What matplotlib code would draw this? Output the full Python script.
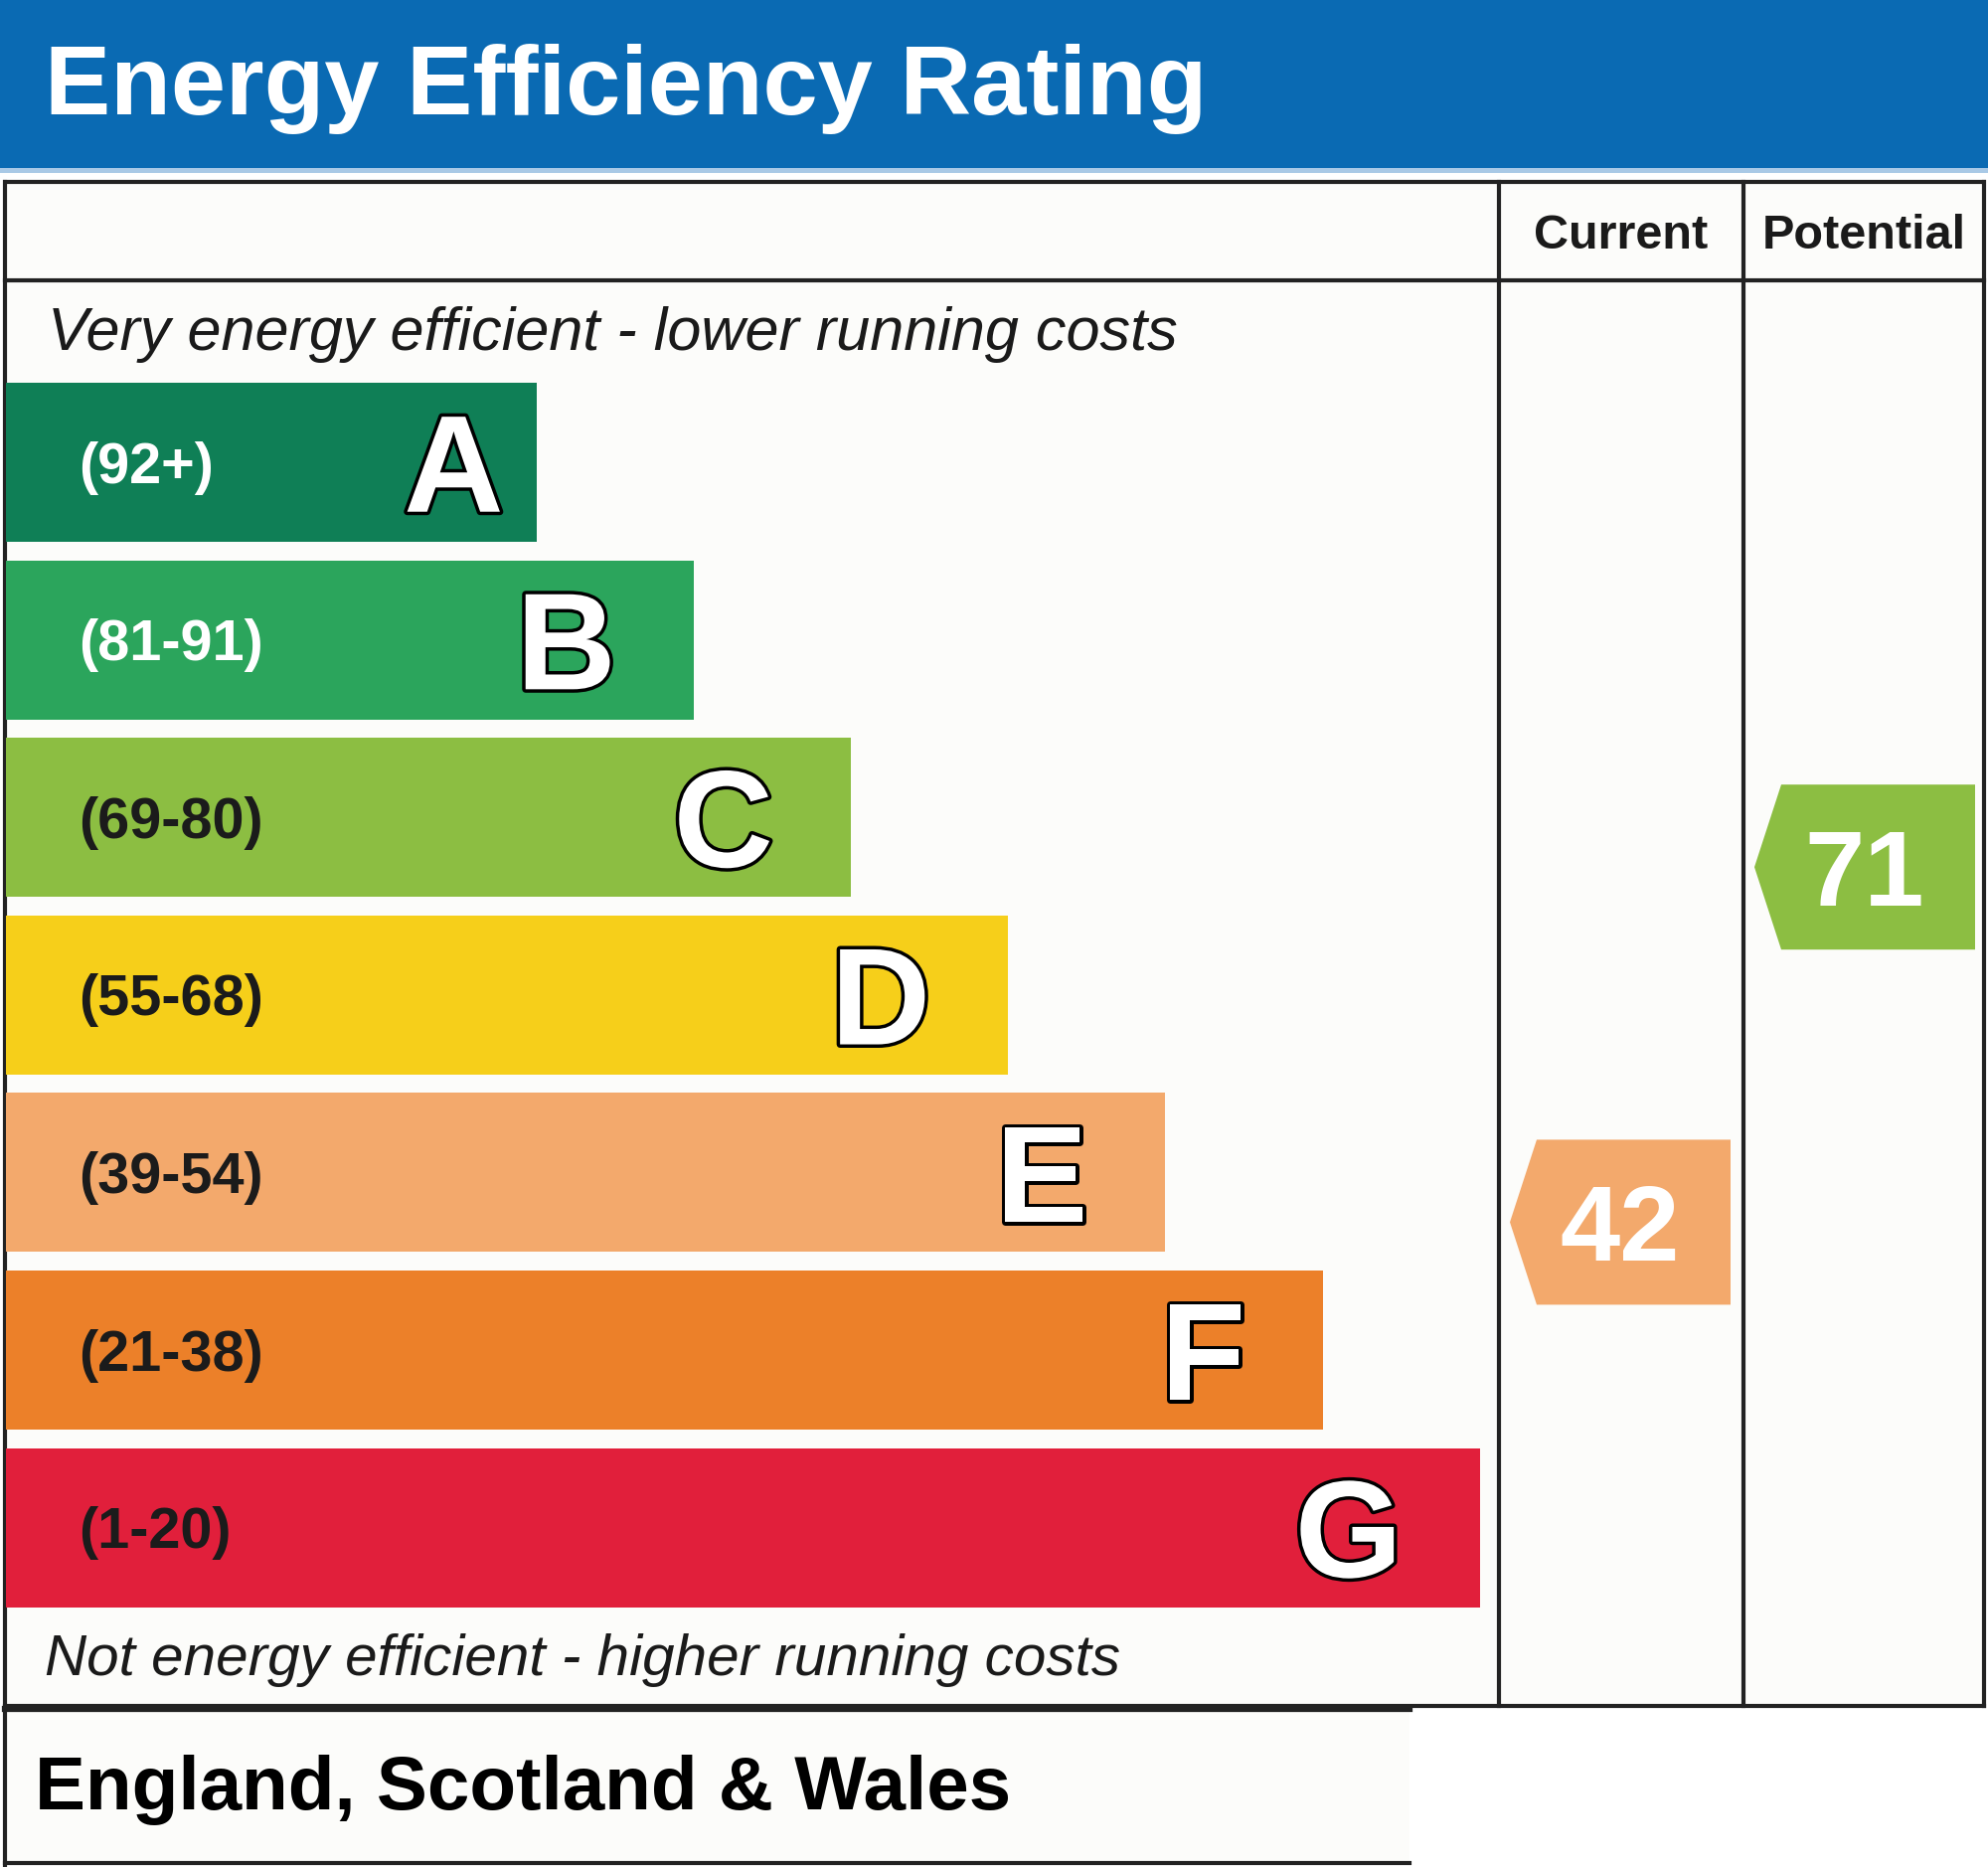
import matplotlib
matplotlib.use("Agg")
import matplotlib.pyplot as plt
import matplotlib.patheffects as pe
from matplotlib.patches import Rectangle, Polygon

plt.rcParams['font.family'] = ['Liberation Sans', 'DejaVu Sans']

# band data
letters = ['A', 'B', 'C', 'D', 'E', 'F', 'G']
ranges = ['(92+)', '(81-91)', '(69-80)', '(55-68)', '(39-54)', '(21-38)', '(1-20)']
lower = [92, 81, 69, 55, 39, 21, 1]
colors = ['#0f7f56', '#2ba55c', '#8cbe42', '#f6cf1a', '#f3a96c', '#ec8029', '#e11f3b']
range_colors = ['white', 'white', '#1b1b1b', '#1b1b1b', '#1b1b1b', '#1b1b1b', '#1b1b1b']

current = 42
potential = 71

title = 'Energy Efficiency Rating'
col_labels = ['Current', 'Potential']
top_note = 'Very energy efficient - lower running costs'
bottom_note = 'Not energy efficient - higher running costs'
region = 'England, Scotland & Wales'

W, H = 2000, 1878
fig = plt.figure(figsize=(W / 100, H / 100), dpi=100)
fig.patch.set_facecolor('white')
ax = fig.add_axes([0, 0, 1, 1])
ax.set_xlim(0, W)
ax.set_ylim(H, 0)
ax.axis('off')

PX = 100 / 72  # pixels per point


def cap(fs):
    return 0.716 * fs * PX


# layout (pixels)
box_l, box_r = 5, 1996
top_y, head_y, bot_y = 183, 282, 1718
col1, col2 = 1508, 1754
foot_r, foot_b = 1418, 1874
bar_top0, bar_h, pitch = 385, 160, 178.6
bar_x0, bar_w0, bar_step = 6, 533.5, 158.2

# backgrounds
ax.add_patch(Rectangle((box_l, top_y), box_r - box_l, bot_y - top_y, fc='#fcfcfa', ec='none', zorder=0))
ax.add_patch(Rectangle((box_l, bot_y), foot_r - box_l, foot_b - bot_y, fc='#fcfcfa', ec='none', zorder=0))
ax.add_patch(Rectangle((0, 0), W, 169, fc='#0a6ab3', ec='none', zorder=1))
ax.add_patch(Rectangle((0, 169), W, 5, fc='#a9c9e6', ec='none', zorder=1))

ax.text(45, 115, title, color='white', fontsize=71.5, fontweight='bold', va='baseline', ha='left')

# frame lines
lw = 3
ax.plot([box_l - 2, box_r + 2], [top_y, top_y], color='#222222', lw=lw, solid_capstyle='butt')
ax.plot([box_l, box_r], [head_y, head_y], color='#222222', lw=lw)
ax.plot([box_l, box_l], [top_y, foot_b + 2], color='#222222', lw=lw)
ax.plot([box_r, box_r], [top_y, bot_y - 2], color='#222222', lw=lw)
for cx in (col1, col2):
    ax.plot([cx, cx], [top_y, bot_y - 2], color='#222222', lw=lw)
ax.plot([box_l, box_r], [bot_y - 2, bot_y - 2], color='#222222', lw=lw)
ax.plot([box_l, foot_r], [bot_y + 1, bot_y + 1], color='#222222', lw=4.5)
ax.plot([box_l, foot_r], [foot_b, foot_b], color='#222222', lw=lw)

# column headers
col_bounds = [(col1, col2), (col2, box_r)]
for (a, b), lab in zip(col_bounds, col_labels):
    ax.text((a + b) / 2, 250, lab, fontsize=35, fontweight='bold', color='#1a1a1a',
            ha='center', va='baseline')

ax.text(48, 352, top_note, fontsize=44, style='italic', color='#1a1a1a', va='baseline')
ax.text(45, 1685, bottom_note, fontsize=42, style='italic', color='#1a1a1a', va='baseline')
ax.text(35, 1820, region, fontsize=55, fontweight='bold', color='black', va='baseline')

# bars
n = len(letters)
centers = [bar_top0 + bar_h / 2 + i * pitch for i in range(n)]
widths = [bar_w0 + i * bar_step for i in range(n)]
ax.barh(centers, widths, height=bar_h, left=bar_x0, color=colors, edgecolor='none', zorder=2)

outline = [pe.withStroke(linewidth=5, foreground='black')]
for i in range(n):
    yc = centers[i]
    ax.text(79, yc + cap(41.5) / 2, ranges[i], fontsize=41.5, fontweight='bold',
            color=range_colors[i], va='baseline', ha='left', zorder=3)
    end = bar_x0 + widths[i]
    off = 33 if i == 0 else 78
    ax.text(end - off, yc + cap(100) / 2, letters[i], fontsize=100, fontweight='bold',
            color='white', va='baseline', ha='right', path_effects=outline, zorder=3)


def band_of(v):
    for i, lo in enumerate(lower):
        if v >= lo:
            return i
    return n - 1


# rating arrows
for (a, b), val in zip(col_bounds, [current, potential]):
    k = band_of(val)
    yc = centers[k] + 50
    half = 83
    tip = a + 11
    flat, right = tip + 27, tip + 222
    pts = [(tip, yc), (flat, yc - half), (right, yc - half), (right, yc + half), (flat, yc + half)]
    ax.add_patch(Polygon(pts, closed=True, fc=colors[k], ec='none', zorder=3))
    ax.text((tip + right) / 2, yc + cap(78) / 2, str(val), fontsize=78, fontweight='bold',
            color='white', ha='center', va='baseline', zorder=4)

fig.savefig('out.png', dpi=100, facecolor=fig.get_facecolor())
